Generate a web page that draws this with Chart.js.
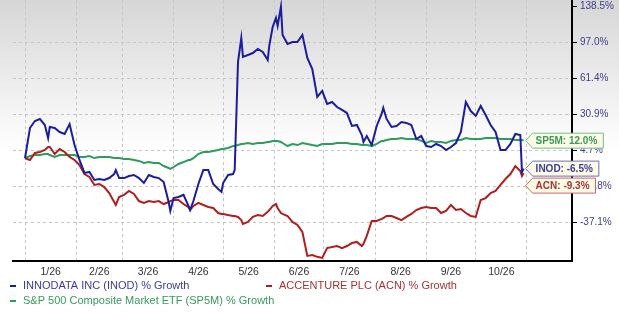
<!DOCTYPE html>
<html>
<head>
<meta charset="utf-8">
<script src="https://cdn.jsdelivr.net/npm/chart.js@4.4.1/dist/chart.umd.min.js"></script>
<style>
  html, body { margin: 0; padding: 0; background: #fff; }
</style>
</head>
<body>
<canvas id="myChart" width="619" height="314"></canvas>
<script>
// day of year (0 = Jan 1)
const days = [0,3,6,9,12,14,15,18,21,24,
  27,30,33,36,39,42,45,48,51,54,
  55,57,60,63,66,69,72,75,78,81,
  84,87,88,90,93,96,99,100,102,105,
  108,111,114,117,119,120,123,126,127,129,
  131,132,135,138,141,144,147,148,150,152,
  153,155,156,159,162,165,168,171,174,177,
  180,183,186,189,192,195,198,201,204,205,
  207,210,213,216,217,219,222,225,228,231,
  234,237,240,243,246,249,252,255,258,261,
  264,267,270,273,276,279,282,285,288,291,
  294,297,300,301,302];

const inod = [0,21.2,26.3,27.8,23.4,13.9,22.0,21.2,18.3,16.9,
  24.1,8.8,-1.1,-9.2,-8.6,-13.6,-13.0,-13.6,-12.4,-9.9,
  -7.4,-12.4,-12.4,-11.1,-10.5,-12.4,-15.5,-10.5,-11.7,-12.4,
  -14.9,-26.0,-30.8,-23.9,-23.3,-22.2,-28.1,-30.3,-25.5,-16.1,
  -7.4,-7.4,-16.1,-19.0,-20.6,-15.5,-10.5,-9.9,-7.4,77.9,
  102.4,82.9,84.8,86.8,90.8,87.8,79.9,94.7,115.1,125.5,
  116.3,138.5,105.9,95.7,97.8,97.8,106.0,81.9,71.0,45.9,
  51.0,40.0,41.7,37.4,34.9,32.3,22.7,23.4,16.1,11.0,
  15.4,8.8,22.7,31.5,36.6,27.8,22.0,22.7,25.6,24.9,
  23.4,13.2,15.4,8.1,7.4,9.6,8.1,5.2,7.4,10.3,
  18.3,41.7,34.0,30.0,38.3,30.7,23.4,18.3,5.2,5.2,
  9.6,16.9,16.1,-8.6,-6.5];

const acn = [0,-1.1,3.3,3.9,5.2,7.4,7.4,2.6,5.9,3.9,
  0.8,-1.1,-4.2,-9.9,-11.7,-16.7,-16.1,-18.0,-21.2,-26.0,
  -27.6,-23.3,-22.2,-20.1,-21.7,-25.5,-26.5,-25.5,-26.0,-25.5,
  -27.1,-26.0,-25.5,-24.9,-24.9,-27.1,-28.7,-30.3,-28.1,-26.5,
  -27.6,-28.7,-29.2,-31.9,-32.4,-32.4,-33.0,-33.5,-33.5,-34.0,
  -35.7,-37.8,-36.7,-34.0,-33.0,-33.5,-31.3,-30.3,-28.1,-27.1,
  -29.2,-31.9,-32.4,-33.5,-36.7,-38.3,-42.1,-54.9,-54.4,-55.4,
  -56.0,-50.7,-50.1,-49.6,-50.7,-49.6,-48.0,-47.4,-49.6,-48.5,
  -44.2,-36.2,-36.2,-35.1,-34.6,-33.5,-33.5,-34.6,-35.7,-34.0,
  -32.4,-30.3,-29.2,-28.7,-29.2,-29.2,-31.9,-30.8,-27.6,-30.3,
  -29.8,-31.9,-33.5,-34.0,-24.9,-23.9,-21.2,-20.1,-16.7,-13.0,
  -9.9,-4.9,-8.0,-11.1,-9.3];

const sp5m = [0,1.4,2.0,2.0,2.6,2.6,2.0,0.8,2.0,2.0,
  2.0,2.0,0.8,0.8,1.4,0.1,0.8,0.8,0.8,0.1,
  0.1,0.1,-0.5,-0.5,-1.1,-1.7,-3.0,-2.4,-3.0,-3.0,
  -4.9,-6.1,-6.7,-5.5,-3.6,-2.4,-1.1,-1.1,0.1,2.6,
  3.9,3.9,4.5,5.2,5.9,5.9,6.7,8.1,8.1,8.8,
  9.6,9.6,10.3,9.6,10.3,10.3,11.0,11.0,11.8,11.8,
  11.8,11.0,10.3,8.1,9.6,8.8,10.3,9.6,8.8,8.1,
  9.6,9.6,9.6,10.3,10.3,10.3,9.6,9.6,8.8,8.8,
  8.8,8.1,9.6,11.8,11.8,12.5,13.2,13.2,13.9,13.2,
  13.2,13.2,11.8,10.3,11.8,11.0,11.0,10.3,11.8,12.5,
  12.5,13.9,13.2,13.2,13.2,13.9,13.9,13.9,13.2,13.2,
  13.2,12.5,12.5,12.5,12.0];

const seriesNames = ['INNODATA INC (INOD) % Growth', 'ACCENTURE PLC (ACN) % Growth', 'S&P 500 Composite Market ETF (SP5M) % Growth'];
const tagNames = ['INOD', 'ACN', 'SP5M'];

const monthStarts = [0, 31, 59, 90, 120, 151, 181, 212, 243, 273, 304];
const monthLabels = ['1/26', '2/26', '3/26', '4/26', '5/26', '6/26', '7/26', '8/26', '9/26', '10/26'];

const yTicks = [-37.1, -17.8, 4.7, 30.9, 61.4, 97.0, 138.5];
const yTickLabels = ['-37.1%', '-17.8%', '4.7%', '30.9%', '61.4%', '97.0%', '138.5%'];

const lineColors = ['#1c1c9e', '#b01e1e', '#2e9d5b'];
const textColors = ['#3b3b9e', '#a83232', '#379a5a'];
const tagBorders = ['#7070b8', '#c46a6a', '#6fbf8a'];

// the value axis is uneven: every tick step gets the same height
const uLow = -1.064, uHigh = 6.186;
function toUnit(v) {
  const t = yTicks, n = t.length;
  if (v <= t[1]) return (v - t[0]) / (t[1] - t[0]);
  if (v >= t[n - 2]) return n - 2 + (v - t[n - 2]) / (t[n - 1] - t[n - 2]);
  for (let i = 1; i < n - 2; i++) {
    if (v <= t[i + 1]) return i + (v - t[i]) / (t[i + 1] - t[i]);
  }
}
function fromUnit(u) {
  const t = yTicks, n = t.length;
  const i = Math.max(0, Math.min(n - 2, Math.floor(u)));
  return t[i] + (u - i) * (t[i + 1] - t[i]);
}

class StepScale extends Chart.LinearScale {
  determineDataLimits() {
    this.min = fromUnit(uLow);
    this.max = fromUnit(uHigh);
  }
  buildTicks() {
    return yTicks.map(v => ({ value: v }));
  }
  getPixelForValue(v) {
    return this.getPixelForDecimal((toUnit(v) - uLow) / (uHigh - uLow));
  }
  getValueForPixel(p) {
    return fromUnit(uLow + this.getDecimalForPixel(p) * (uHigh - uLow));
  }
}
StepScale.id = 'steps';
StepScale.defaults = Chart.LinearScale.defaults;
Chart.register(StepScale);

const labelDays = monthLabels.map((m, i) => (monthStarts[i] + monthStarts[i + 1]) / 2);
const xTicks = monthStarts.concat(labelDays).sort((a, b) => a - b);

const backdrop = {
  id: 'backdrop',
  beforeDraw(chart) {
    const ctx = chart.ctx;
    const g = ctx.createLinearGradient(0, 0, 0, 150);
    g.addColorStop(0, '#d6d6d6');
    g.addColorStop(1, '#ffffff');
    ctx.save();
    ctx.fillStyle = '#fff';
    ctx.fillRect(0, 0, chart.width, chart.height);
    ctx.fillStyle = g;
    ctx.fillRect(0, 0, chart.width, 150);
    ctx.restore();
  }
};

const endTags = {
  id: 'endTags',
  afterDatasetsDraw(chart) {
    const ctx = chart.ctx;
    const tags = chart.data.datasets.map((ds, i) => {
      const pts = chart.getDatasetMeta(i).data;
      const last = pts[pts.length - 1];
      const v = ds.data[ds.data.length - 1].y;
      return { i, x: last.x, y: last.y, text: tagNames[i] + ': ' + v.toFixed(1) + '%' };
    }).sort((a, b) => a.y - b.y);
    for (let k = 1; k < tags.length; k++) {
      if (tags[k].y < tags[k - 1].y + 17) tags[k].y = tags[k - 1].y + 17;
    }
    ctx.save();
    ctx.font = 'bold 10px "Liberation Sans", Arial, sans-serif';
    ctx.textBaseline = 'middle';
    tags.forEach(t => {
      const x0 = t.x + 2, cy = t.y, h = 7.5;
      const w = ctx.measureText(t.text).width;
      const right = x0 + 10 + w + 6;
      ctx.beginPath();
      ctx.moveTo(x0, cy);
      ctx.lineTo(x0 + 7, cy - h);
      ctx.lineTo(right, cy - h);
      ctx.lineTo(right, cy + h);
      ctx.lineTo(x0 + 7, cy + h);
      ctx.closePath();
      ctx.fillStyle = '#fdfbe6';
      ctx.fill();
      ctx.lineWidth = 1;
      ctx.strokeStyle = tagBorders[t.i];
      ctx.stroke();
      ctx.fillStyle = textColors[t.i];
      ctx.fillText(t.text, x0 + 10, cy + 0.5);
    });
    ctx.restore();
  }
};

const bottomLegend = {
  id: 'bottomLegend',
  afterDraw(chart) {
    const ctx = chart.ctx;
    const spots = [[10, 286], [266, 286], [10, 301]];
    ctx.save();
    ctx.font = '11px "Liberation Sans", Arial, sans-serif';
    ctx.textBaseline = 'middle';
    seriesNames.forEach((name, i) => {
      const [x, y] = spots[i];
      ctx.fillStyle = lineColors[i];
      ctx.fillRect(x, y - 1, 6, 2);
      ctx.fillStyle = textColors[i];
      ctx.fillText(name, x + 13, y);
    });
    ctx.restore();
  }
};

const series = [inod, acn, sp5m];

new Chart(document.getElementById('myChart'), {
  type: 'line',
  data: {
    datasets: series.map((vals, i) => ({
      label: seriesNames[i],
      data: days.map((d, k) => ({ x: d, y: vals[k] })),
      borderColor: lineColors[i],
      borderWidth: 2,
      pointRadius: 0,
      tension: 0,
      fill: false
    }))
  },
  options: {
    responsive: false,
    devicePixelRatio: 1,
    animation: false,
    events: [],
    layout: { padding: { left: 13, top: 0, right: 0, bottom: 0 } },
    plugins: { legend: { display: false }, tooltip: { enabled: false } },
    scales: {
      x: {
        type: 'linear',
        min: -7.27,
        max: 331.3,
        afterFit(s) { s.height = 53; s.paddingLeft = 0; s.paddingRight = 0; },
        afterBuildTicks(s) { s.ticks = xTicks.map(v => ({ value: v })); },
        grid: {
          color: ctx => (ctx.tick && monthStarts.includes(ctx.tick.value)) ? '#c6c6c6' : 'rgba(0,0,0,0)',
          drawTicks: false
        },
        border: { display: true, color: '#000', width: 2, dash: [3, 3] },
        ticks: {
          autoSkip: false,
          maxRotation: 0,
          padding: 5,
          color: '#333',
          font: { family: 'Liberation Sans', size: 10.5 },
          callback: v => {
            const i = labelDays.indexOf(v);
            return i < 0 ? '' : monthLabels[i];
          }
        }
      },
      y: {
        type: 'steps',
        position: 'right',
        afterFit(s) { s.width = 47; s.paddingTop = 0; s.paddingBottom = 0; },
        grid: {
          color: ctx => ctx.index === yTicks.length - 1 ? 'rgba(0,0,0,0)' : '#c6c6c6',
          drawTicks: true,
          tickLength: 5,
          tickColor: '#000',
          tickWidth: 1
        },
        border: { display: true, color: '#000', width: 2, dash: [3, 3] },
        ticks: {
          autoSkip: false,
          padding: 3,
          color: '#3d3d8f',
          font: { family: 'Liberation Sans', size: 10 },
          callback: (v, i) => yTickLabels[i]
        }
      }
    }
  },
  plugins: [backdrop, endTags, bottomLegend]
});
</script>
</body>
</html>
